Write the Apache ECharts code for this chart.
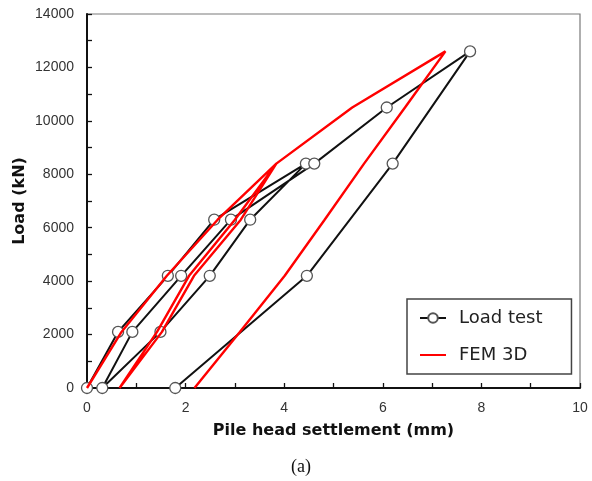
<!DOCTYPE html>
<html>
<head>
<meta charset="utf-8">
<script src="https://cdn.jsdelivr.net/npm/echarts@6/dist/echarts.min.js"></script>
<style>
  html, body { margin: 0; padding: 0; background: #fff; }
  #chart { width: 592px; height: 481px; }
</style>
</head>
<body>
<div id="chart"></div>
<script>
// settlement (mm) / load (kN)
const testSettlement = [0, 0.63, 1.64, 2.58, 4.44, 3.31, 2.49, 1.49, 0.31, 0.92, 1.91, 2.92, 4.61, 6.08, 7.77, 6.20, 4.46, 1.79];
const testLoad = [0, 2100, 4200, 6300, 8400, 6300, 4200, 2100, 0, 2100, 4200, 6300, 8400, 10500, 12600, 8400, 4200, 0];

const femSettlement = [0, 0.70, 1.62, 2.65, 3.84, 3.12, 2.17, 1.52, 0.66, 1.42, 2.07, 3.00, 3.84, 5.38, 7.27, 6.45, 5.62, 4.82, 4.01, 3.10, 2.18];
const femLoad = [0, 2100, 4200, 6300, 8400, 6300, 4200, 2100, 0, 2100, 4200, 6300, 8400, 10500, 12600, 10500, 8400, 6300, 4200, 2100, 0];

const seriesNames = ["Load test", "FEM 3D"];
const xTitle = "Pile head settlement (mm)";
const yTitle = "Load (kN)";
const caption = "(a)";

const pairs = (xs, ys) => xs.map((x, i) => [x, ys[i]]);

const chart = echarts.init(document.getElementById("chart"));

chart.setOption({
  animation: false,
  backgroundColor: "#fff",
  grid: {
    left: 87,
    right: 12,
    top: 14,
    bottom: 93,
    outerBoundsMode: "none",
    show: true,
    borderColor: "#7a7a7a",
    borderWidth: 1.2,
  },
  legend: {
    orient: "vertical",
    left: 407,
    top: 299,
    // FEM has no markers, so hide the legend marker but keep its line
    data: [{ name: seriesNames[0] }, { name: seriesNames[1], itemStyle: { opacity: 0 } }],
    itemWidth: 26,
    itemHeight: 12,
    itemGap: 19,
    padding: [10, 29, 10, 12],
    borderColor: "#444",
    borderWidth: 1.5,
    backgroundColor: "#fff",
    textStyle: {
      fontFamily: "DejaVu Sans",
      fontSize: 18,
      color: "#222",
      padding: [0, 0, 0, 8],
    },
  },
  xAxis: {
    type: "value",
    min: 0,
    max: 10,
    interval: 2,
    name: xTitle,
    nameLocation: "middle",
    nameGap: 35,
    nameMoveOverlap: false,
    nameTextStyle: {
      fontFamily: "DejaVu Sans",
      fontWeight: "bold",
      fontSize: 16,
      color: "#111",
    },
    axisLine: { lineStyle: { color: "#111", width: 2 } },
    axisTick: { inside: true, length: 5, lineStyle: { color: "#111", width: 1.3 } },
    minorTick: { show: true, splitNumber: 2, length: 5, lineStyle: { color: "#111", width: 1.3 } },
    splitLine: { show: false },
    axisLabel: {
      margin: 13,
      fontFamily: "Liberation Sans",
      fontSize: 14,
      color: "#333",
    },
  },
  yAxis: {
    type: "value",
    min: 0,
    max: 14000,
    interval: 2000,
    name: yTitle,
    nameLocation: "middle",
    nameGap: 59,
    nameMoveOverlap: false,
    nameTextStyle: {
      fontFamily: "DejaVu Sans",
      fontWeight: "bold",
      fontSize: 16,
      color: "#111",
    },
    axisLine: { show: true, lineStyle: { color: "#111", width: 2 } },
    axisTick: { show: true, inside: true, length: 5, lineStyle: { color: "#111", width: 1.3 } },
    minorTick: { show: true, splitNumber: 2, length: 5, lineStyle: { color: "#111", width: 1.3 } },
    splitLine: { show: false },
    axisLabel: {
      margin: 13,
      fontFamily: "Liberation Sans",
      fontSize: 14,
      color: "#333",
      formatter: (v) => String(v),
    },
  },
  graphic: [
    {
      type: "text",
      left: 291,
      top: 458,
      style: {
        text: caption,
        font: "18px 'Liberation Serif'",
        fill: "#111",
      },
    },
  ],
  series: [
    {
      name: seriesNames[0],
      type: "line",
      data: pairs(testSettlement, testLoad),
      symbol: "circle",
      symbolSize: 11,
      showAllSymbol: true,
      lineStyle: { color: "#111", width: 2 },
      itemStyle: { color: "#fff", borderColor: "#555", borderWidth: 1.3 },
      z: 2,
    },
    {
      name: seriesNames[1],
      type: "line",
      data: pairs(femSettlement, femLoad),
      symbol: "none",
      lineStyle: { color: "#ff0000", width: 2.4 },
      itemStyle: { color: "#ff0000" },
      z: 3,
    },
  ],
});
</script>
</body>
</html>
